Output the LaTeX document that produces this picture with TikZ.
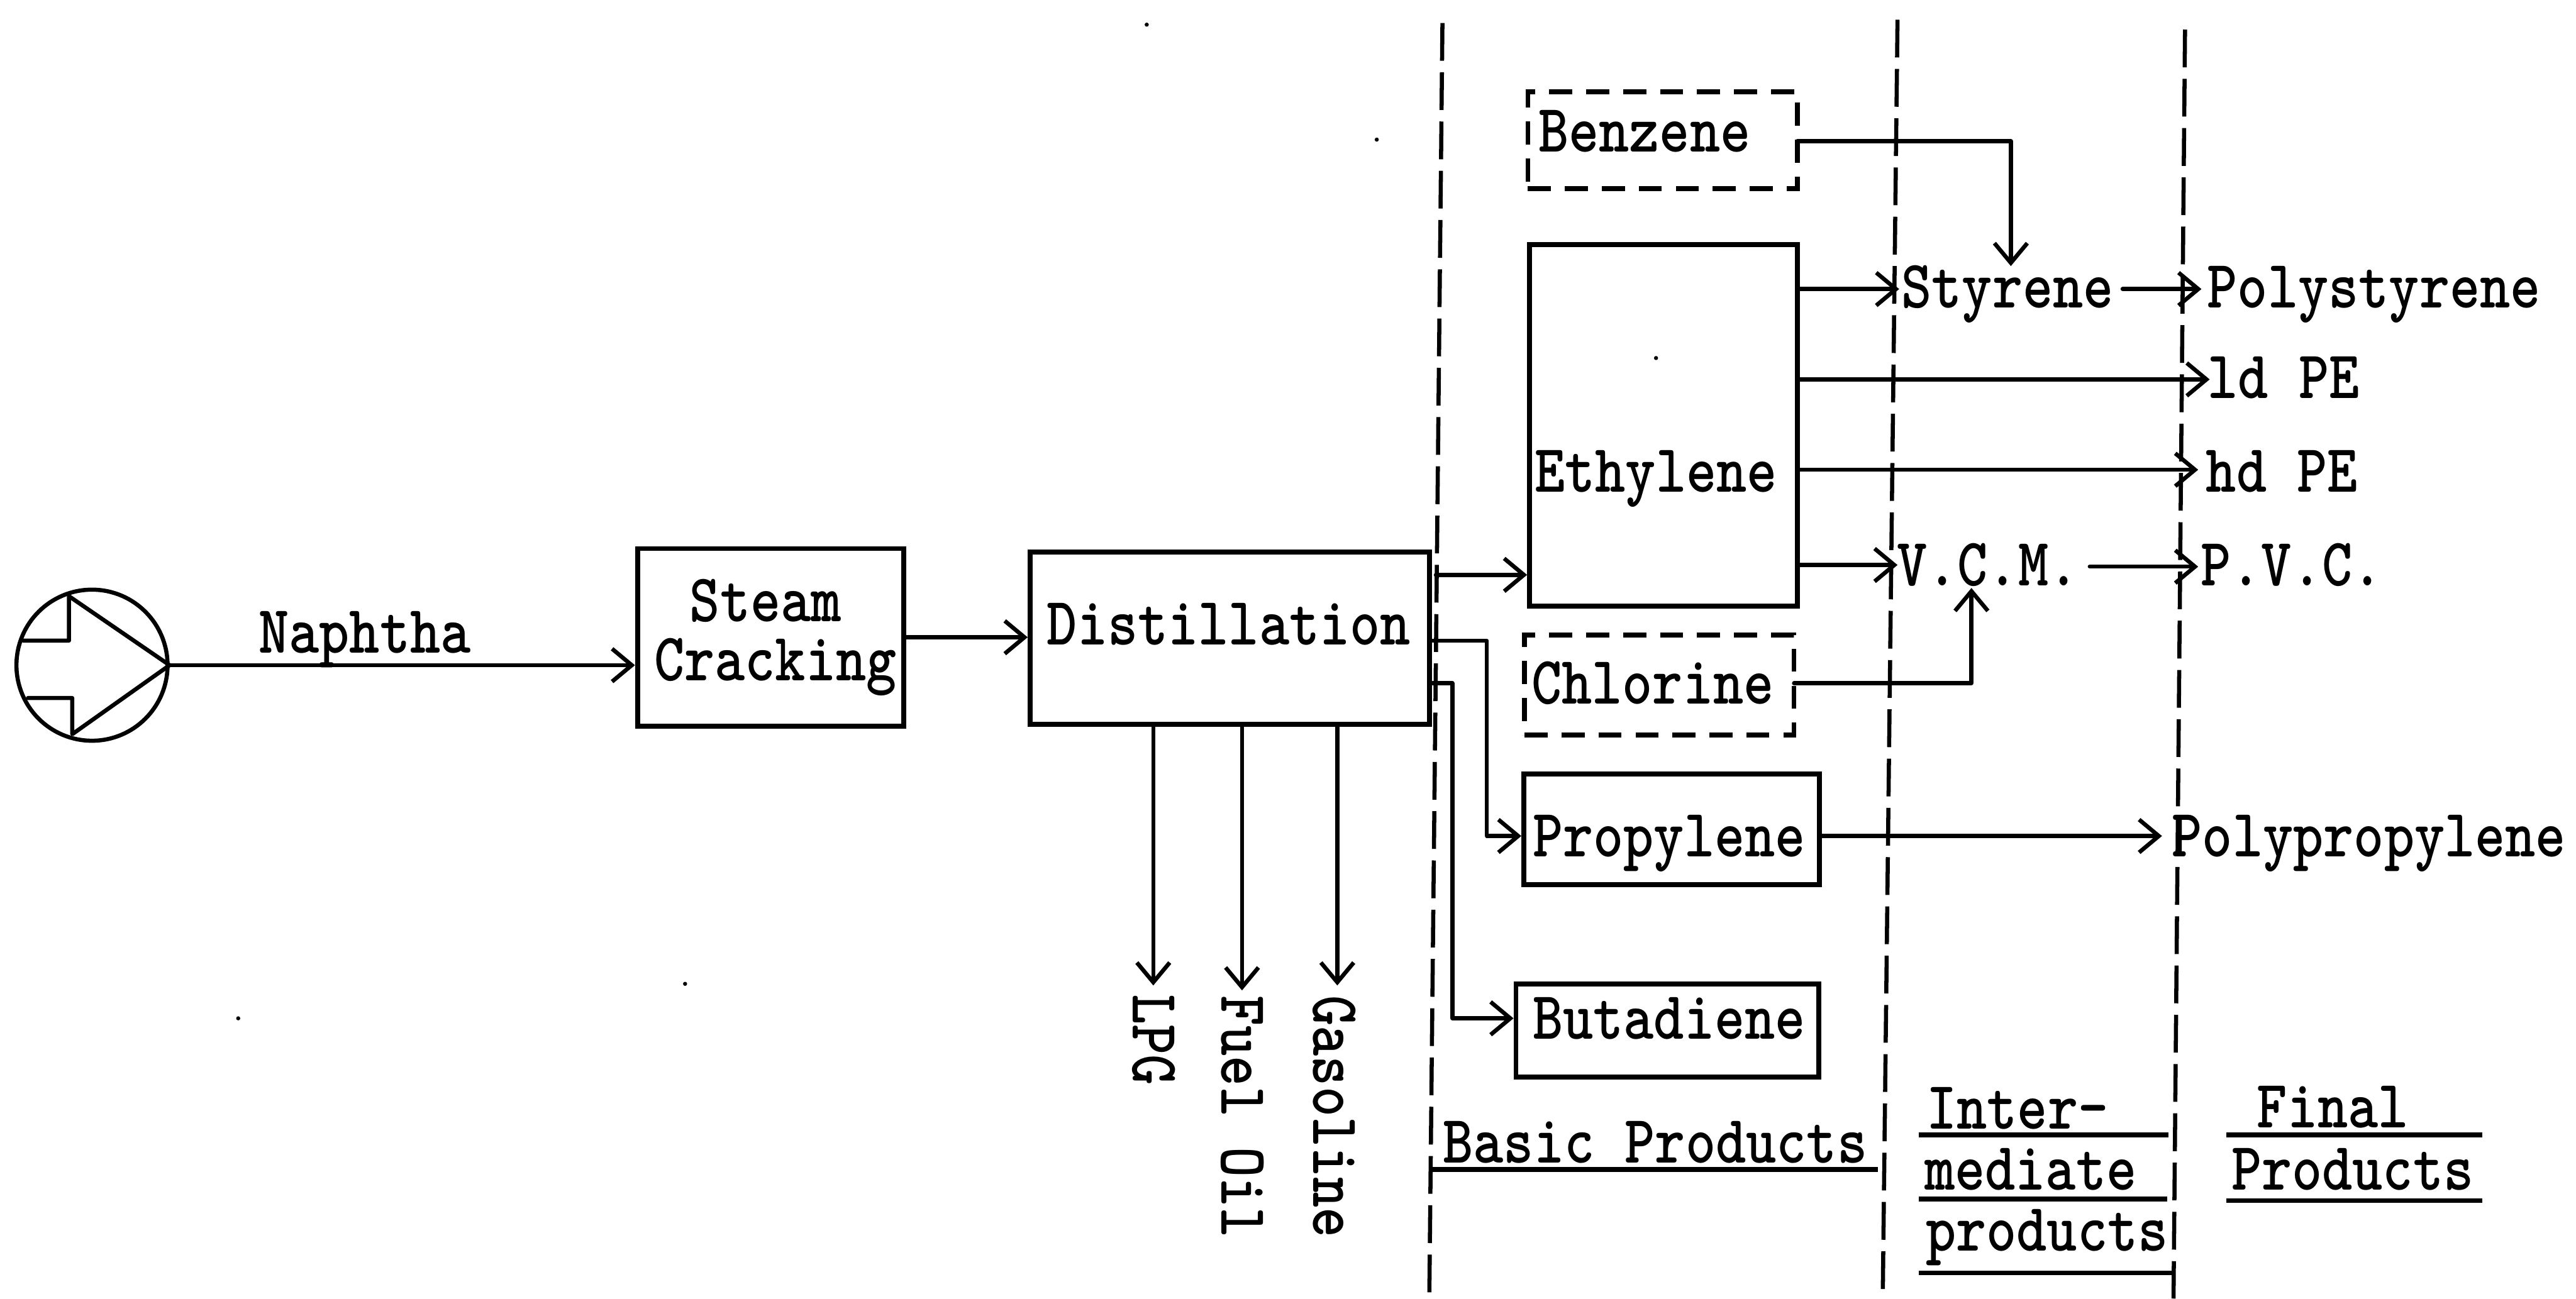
\documentclass[tikz,border=0pt]{standalone}
\usetikzlibrary{arrows.meta}
\tikzset{
  every picture/.style={x=0.02cm,y=-0.02cm},
  ln/.style={line width=0.05cm,line cap=round,line join=round},
  arr/.style={ln,-{Straight Barb[length=0.24cm,width=0.40cm,line width=0.05cm]}},
  sep/.style={line width=0.05cm,dash pattern=on 0.46cm off 0.14cm},
  rule/.style={line width=0.06cm},
  boxn/.style={draw,line width=0.06cm,inner sep=0pt,anchor=center},
  dbox/.style={boxn,dash pattern=on 0.28cm off 0.17cm},
  lbl/.style={transform shape,yscale=1.18,inner sep=0pt,anchor=center,text height=12pt,text depth=0pt,font=\fontsize{20}{20}\selectfont\ttfamily\bfseries},
  rlbl/.style={transform shape,rotate=-90,yscale=1.18,inner sep=0pt,anchor=center,text height=12pt,text depth=0pt,font=\fontsize{20}{20}\selectfont\ttfamily\bfseries},
  speck/.style={fill,circle,inner sep=0pt,minimum size=0.05cm}
}
\begin{document}
\begin{tikzpicture}
\useasboundingbox (0,0) rectangle (1568,790.6);
% separators
\coordinate (s1t) at (878,14);   \coordinate (s1b) at (870,790.6);
\coordinate (s2t) at (1155,12);  \coordinate (s2b) at (1146,790.6);
\coordinate (s3t) at (1330,18);  \coordinate (s3b) at (1323,790.6);
\draw[sep] (s1t) -- (s1b);
\draw[sep] (s2t) -- (s2b);
\draw[sep] (s3t) -- (s3b);
% source
\node[draw,circle,line width=0.05cm,minimum size=1.84cm,inner sep=0pt] (src) at (56,405) {};
\coordinate (a1) at (14,390);  \coordinate (a2) at (42,390);  \coordinate (a3) at (42,363);
\coordinate (a4) at (44,447);  \coordinate (a5) at (44,425);  \coordinate (a6) at (17,425);
\draw[ln] (a1) -- (a2) -- (a3) -- (src.east) -- (a4) -- (a5) -- (a6);
% process boxes
\node[boxn,minimum width=3.24cm,minimum height=2.16cm] (steam) at (469,388) {};
\node[lbl] (steamt1) at (466,366) {Steam};
\node[lbl] (steamt2) at (472,402) {Cracking};
\node[boxn,minimum width=4.86cm,minimum height=2.10cm] (dist) at (748.5,388.5) {};
\node[lbl] (distt) at (748,380) {Distillation};
\node[lbl] (naph) at (222,385) {Naphtha};
% basic products
\node[dbox,minimum width=3.28cm,minimum height=1.18cm] (benz) at (1012,85.5) {};
\node[lbl] (benzt) at (1001,80) {Benzene};
\node[boxn,minimum width=3.26cm,minimum height=4.40cm] (eth) at (1012.5,259) {};
\node[lbl] (etht) at (1008,287) {Ethylene};
\node[dbox,minimum width=3.28cm,minimum height=1.22cm] (chl) at (1010,417) {};
\node[lbl] (chlt) at (1006,416) {Chlorine};
\node[boxn,minimum width=3.60cm,minimum height=1.35cm] (prop) at (1017.5,505) {};
\node[lbl] (propt) at (1016,509) {Propylene};
\node[boxn,minimum width=3.69cm,minimum height=1.13cm] (buta) at (1015,627.5) {};
\node[lbl] (butat) at (1016,620) {Butadiene};
% products
\node[lbl] (sty) at (1222,175) {Styrene};
\node[lbl] (vcm) at (1210,344) {V.C.M.};
\node[lbl] (psty) at (1445,175) {Polystyrene};
\node[lbl] (ld) at (1390,230) {ld PE};
\node[lbl] (hd) at (1389,287) {hd PE};
\node[lbl] (pvc) at (1395,344) {P.V.C.};
\node[lbl] (ppl) at (1442,509) {Polypropylene};
% side products
\node[rlbl] (lpg) at (702,633) {LPG};
\node[rlbl] (fuel) at (756,680) {Fuel Oil};
\node[rlbl] (gas) at (812,680) {Gasoline};
% connectors
\draw[arr] (src.east) -- (src.east -| steam.west);
\draw[arr] (steam.east) -- (dist.west |- steam.east);
\coordinate (d1) at (874,350); \coordinate (d2) at (872,390); \coordinate (d3) at (872,416);
\coordinate (dv2) at (905,390); \coordinate (dv3) at (884,416);
\draw[arr] (d1) -- (d1 -| eth.west);
\draw[arr] (d2) -- (dv2) -- (dv2 |- propt.west) -- (prop.west |- propt.west);
\draw[arr] (d3) -- (dv3) -- (dv3 |- butat.west) -- (buta.west |- butat.west);
\coordinate (bz) at (1094,86); \coordinate (bzv) at (1224,86); \coordinate (bzend) at (1224,162);
\draw[arr] (bz) -- (bzv) -- (bzend);
\coordinate (cl) at (1092,416); \coordinate (clv) at (1200,416); \coordinate (clend) at (1200,358);
\draw[arr] (cl) -- (clv) -- (clend);
\coordinate (styin) at (1156,176); \coordinate (styout) at (1292,176); \coordinate (pstyin) at (1340,176);
\draw[arr] (styin -| eth.east) -- (styin);
\draw[arr] (styout) -- (pstyin);
\coordinate (ldin) at (1345,231); \coordinate (hdin) at (1338,286);
\draw[arr] (ldin -| eth.east) -- (ldin);
\draw[arr] (hdin -| eth.east) -- (hdin);
\coordinate (vcmin) at (1155,344); \coordinate (vcmout) at (1272,345); \coordinate (pvcin) at (1338,345);
\draw[arr] (vcmin -| eth.east) -- (vcmin);
\draw[arr] (vcmout) -- (pvcin);
\coordinate (pplin) at (1316,509);
\draw[arr] (pplin -| prop.east) -- (pplin);
\coordinate (lpgend) at (702,600); \coordinate (fuelend) at (756,603); \coordinate (gasend) at (814,600);
\draw[arr] (lpgend |- dist.south) -- (lpgend);
\draw[arr] (fuelend |- dist.south) -- (fuelend);
\draw[arr] (gasend |- dist.south) -- (gasend);
% column headings
\node[lbl] (basic) at (1007.5,695.5) {Basic Products};
\node[lbl] (inter) at (1228,675) {Inter-};
\node[lbl] (medi) at (1236,712) {mediate};
\node[lbl] (prods) at (1246,749) {products};
\node[lbl] (final) at (1420,674) {Final};
\node[lbl] (fprod) at (1432,712) {Products};
\coordinate (u1a) at (872,712);   \coordinate (u1b) at (1143,712);
\coordinate (u2a) at (1168,691);  \coordinate (u2b) at (1320,691);
\coordinate (u3a) at (1168,730);  \coordinate (u3b) at (1319,730);
\coordinate (u4a) at (1168,775);  \coordinate (u4b) at (1322,775);
\coordinate (u5a) at (1355,691);  \coordinate (u5b) at (1511,691);
\coordinate (u6a) at (1355,731);  \coordinate (u6b) at (1511,731);
\draw[rule] (u1a) -- (u1b);
\draw[rule] (u2a) -- (u2b);
\draw[rule] (u3a) -- (u3b);
\draw[rule] (u4a) -- (u4b);
\draw[rule] (u5a) -- (u5b);
\draw[rule] (u6a) -- (u6b);
% specks of the original
\node[speck] (sp1) at (698,15) {};
\node[speck] (sp2) at (838,85) {};
\node[speck] (sp3) at (1008,218) {};
\node[speck] (sp4) at (145,620) {};
\node[speck] (sp5) at (417,599) {};
\end{tikzpicture}
\end{document}
